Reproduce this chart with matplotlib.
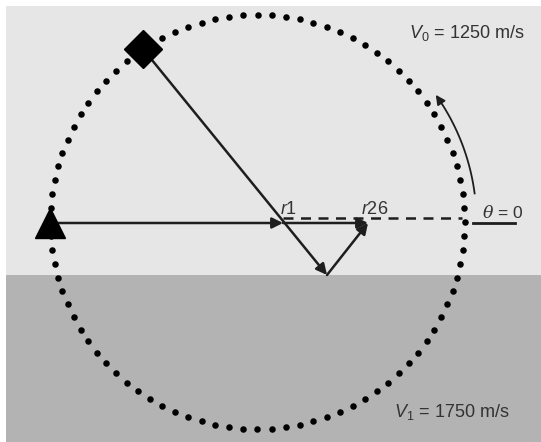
import numpy as np
import matplotlib.pyplot as plt
from matplotlib.patches import Rectangle, FancyArrowPatch

plt.rcParams['font.family'] = ['Liberation Sans', 'DejaVu Sans']
plt.rcParams['mathtext.fontset'] = 'custom'
plt.rcParams['mathtext.rm'] = 'Liberation Sans'
plt.rcParams['mathtext.it'] = 'Liberation Sans:italic'

# geometry, in picture pixels (y grows downwards)
center = (257.5, 222.0)
radius = 207.0
n_receivers = 92
interface_y = 275
source_a = (143, 49)        # diamond
source_b = (50, 223)        # triangle
bounce = (327, 275)
r1_point = (283, 223)
r26_point = (368, 223)
v0_label = '$V_0$ = 1250 m/s'
v1_label = '$V_1$ = 1750 m/s'

INK = '#1e1e1e'


def arrow(ax, p0, p1, lw=1.8):
    ax.add_patch(FancyArrowPatch(p0, p1, arrowstyle='-|>', mutation_scale=16,
                                 lw=lw, color=INK, shrinkA=0, shrinkB=0,
                                 zorder=4))


def main():
    fig = plt.figure(figsize=(5.41, 4.42), dpi=100)
    ax = fig.add_axes([0, 0, 1, 1])
    ax.set_xlim(0, 541)
    ax.set_ylim(442, 0)
    ax.axis('off')

    # two layers
    ax.add_patch(Rectangle((6, 6), 535, interface_y - 6, color='#e6e6e6', lw=0))
    ax.add_patch(Rectangle((6, interface_y), 535, 442 - interface_y, color='#b3b3b3', lw=0))

    # receivers round the circle
    ang = np.linspace(0, 2 * np.pi, n_receivers, endpoint=False)
    ax.scatter(center[0] + radius * np.cos(ang), center[1] - radius * np.sin(ang),
               s=22, color='black', lw=0, zorder=3)

    # sources
    ax.plot(*source_a, marker='D', ms=19, color='black', zorder=5)
    ax.plot(*source_b, marker='^', ms=22, color='black', zorder=5)

    # rays
    arrow(ax, source_b, r1_point)
    arrow(ax, r1_point, r26_point)
    arrow(ax, source_a, bounce)
    arrow(ax, bounce, r26_point)

    # theta = 0 reference
    ax.plot([r1_point[0], 462], [218, 218], ls=(0, (4, 3)), lw=1.8, color=INK, zorder=2)
    ax.plot([473, 515], [223, 223], lw=2, color=INK)
    ax.text(503, 212, '$\\theta$ = 0', ha='center', va='center', fontsize=12.5,
            color='#333333', math_fontfamily='dejavuserif')

    # direction of theta
    t = np.deg2rad(np.linspace(7.5, 33, 40))
    rr = 219
    ax.plot(center[0] + rr * np.cos(t), center[1] - rr * np.sin(t), lw=1.3, color=INK)
    a0 = np.deg2rad(33)
    a1 = np.deg2rad(35.5)
    ax.add_patch(FancyArrowPatch((center[0] + rr * np.cos(a0), center[1] - rr * np.sin(a0)),
                                 (center[0] + rr * np.cos(a1), center[1] - rr * np.sin(a1)),
                                 arrowstyle='-|>', mutation_scale=14, lw=1.3, color=INK,
                                 shrinkA=0, shrinkB=0))

    ax.text(289, 209, '$r$1', ha='center', va='center', fontsize=13, color='#333333')
    ax.text(375, 209, '$r$26', ha='center', va='center', fontsize=13, color='#333333')
    ax.text(467, 33, v0_label, ha='center', va='center', fontsize=13, color='#333333')
    ax.text(452, 412, v1_label, ha='center', va='center', fontsize=13, color='#333333')

    fig.savefig('out.png', dpi=100)


if __name__ == '__main__':
    main()
